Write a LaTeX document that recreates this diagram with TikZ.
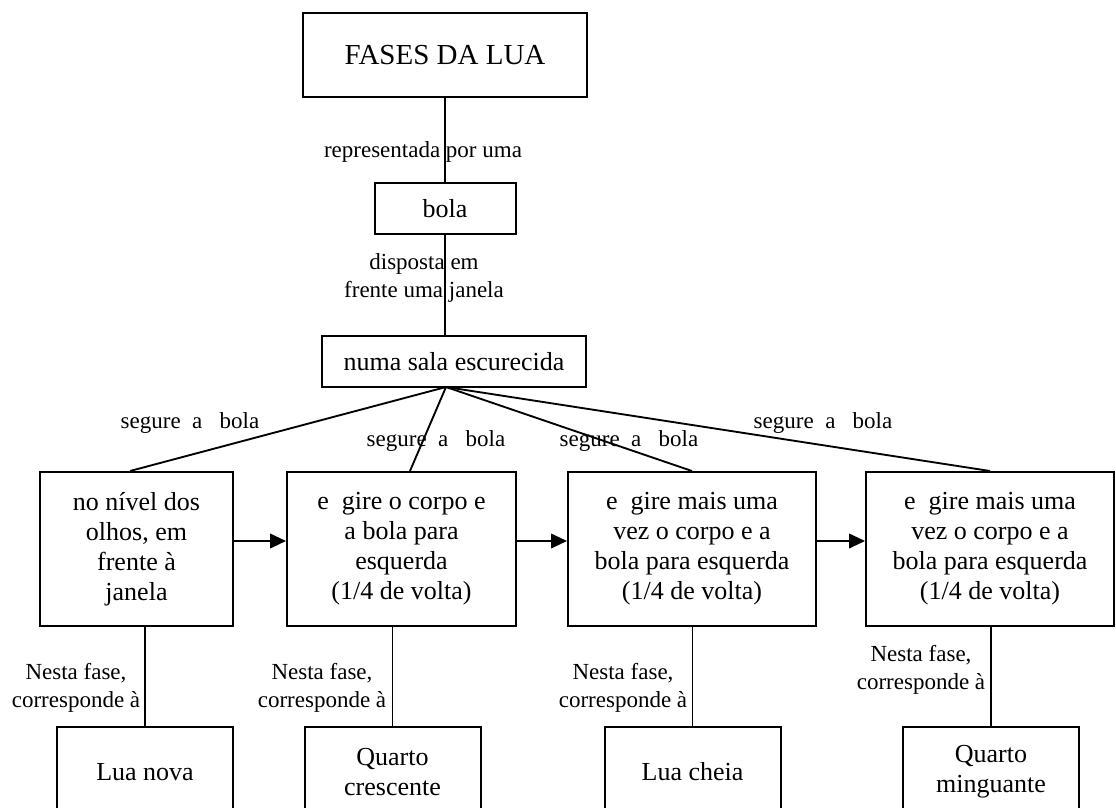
\documentclass[tikz,border=0pt]{standalone}
\usepackage{fontspec}
\setmainfont{Liberation Serif}
\usetikzlibrary{arrows.meta}

\tikzset{
  mapbox/.style={draw, line width=1.5pt, align=center, inner sep=0pt,
    font=\fontsize{19.5}{22.5}\selectfont},
  linklabel/.style={align=center, inner sep=0pt,
    font=\fontsize{17.25}{21.5}\selectfont},
  link/.style={line width=1.4pt},
  turn/.style={line width=1.4pt, -{Triangle[length=12pt,width=11pt]}}
}

\begin{document}
\begin{tikzpicture}[x=0.75pt, y=-0.75pt]
\useasboundingbox (0,0) rectangle (1116,807);
\clip (0,0) rectangle (1116,807);

% Top of the map
\node[mapbox, minimum width=213pt, minimum height=63pt,
  font=\fontsize{21.75}{26}\selectfont] (fases) at (445,55) {FASES DA LUA};
\node[mapbox, minimum width=105.75pt, minimum height=38.25pt] (bola) at (445,208.5) {bola};
\node[mapbox, minimum width=198pt, minimum height=38.25pt] (sala) at (454,361.5) {numa sala escurecida};
\coordinate (hub) at (446,387);

% Four positions of the ball
\node[mapbox, minimum width=144.75pt, minimum height=115.5pt] (olhos) at (136.5,549)
  {no nível dos\\ olhos, em\\ frente à\\ janela};
\node[mapbox, minimum width=171.75pt, minimum height=115.5pt] (giro1) at (401.5,549)
  {e\ \ gire o corpo e\\ a bola para\\ esquerda\\ (1/4 de volta)};
\node[mapbox, minimum width=186pt, minimum height=115.5pt] (giro2) at (692,549)
  {e\ \ gire mais uma\\ vez o corpo e a\\ bola para esquerda\\ (1/4 de volta)};
\node[mapbox, minimum width=186pt, minimum height=115.5pt] (giro3) at (990,549)
  {e\ \ gire mais uma\\ vez o corpo e a\\ bola para esquerda\\ (1/4 de volta)};

% Phases (cut by the page)
\node[mapbox, minimum width=132pt, minimum height=67.5pt] (nova) at (145,772) {Lua nova};
\node[mapbox, minimum width=132pt, minimum height=67.5pt] (crescente) at (392.5,772) {Quarto\\ crescente};
\node[mapbox, minimum width=132pt, minimum height=67.5pt] (cheia) at (692.5,772) {Lua cheia};
\node[mapbox, minimum width=132pt, minimum height=67.5pt] (minguante) at (991,772) {Quarto\\ minguante};

% Connectors
\draw[link] (fases) -- (bola);
\draw[link] (bola.south -| fases.south) -- (sala.north -| fases.south);
\draw[link] (hub) -- (olhos.north -| 130,0);
\draw[link] (hub) -- (giro1.north -| 410,0);
\draw[link] (hub) -- (giro2.north);
\draw[link] (hub) -- (giro3.north);
\draw[turn] ([yshift=6pt]olhos.east) -- ([yshift=6pt]giro1.west);
\draw[turn] ([yshift=6pt]giro1.east) -- ([yshift=6pt]giro2.west);
\draw[turn] ([yshift=6pt]giro2.east) -- ([yshift=6pt]giro3.west);
\draw[link] (olhos.south -| nova.north) -- (nova.north);
\draw[link] (giro1.south -| crescente.north) -- (crescente.north);
\draw[link] (giro2.south -| cheia.north) -- (cheia.north);
\draw[link] (giro3.south -| minguante.north) -- (minguante.north);

% Link labels
\node[linklabel] (repr) at (423,152) {representada por uma};
\node[linklabel] (disposta) at (424,278) {disposta em\\ frente uma janela};
\node[linklabel] (segue1) at (190,423) {segure\ \ a\ \ \ bola};
\node[linklabel] (segue2) at (436,441) {segure\ \ a\ \ \ bola};
\node[linklabel] (segue3) at (629,441) {segure\ \ a\ \ \ bola};
\node[linklabel] (segue4) at (823,423) {segure\ \ a\ \ \ bola};
\node[linklabel] (fase1) at (76,688) {Nesta fase,\\ corresponde à};
\node[linklabel] (fase2) at (322,688) {Nesta fase,\\ corresponde à};
\node[linklabel] (fase3) at (623,688) {Nesta fase,\\ corresponde à};
\node[linklabel] (fase4) at (921,670) {Nesta fase,\\ corresponde à};

\end{tikzpicture}
\end{document}
